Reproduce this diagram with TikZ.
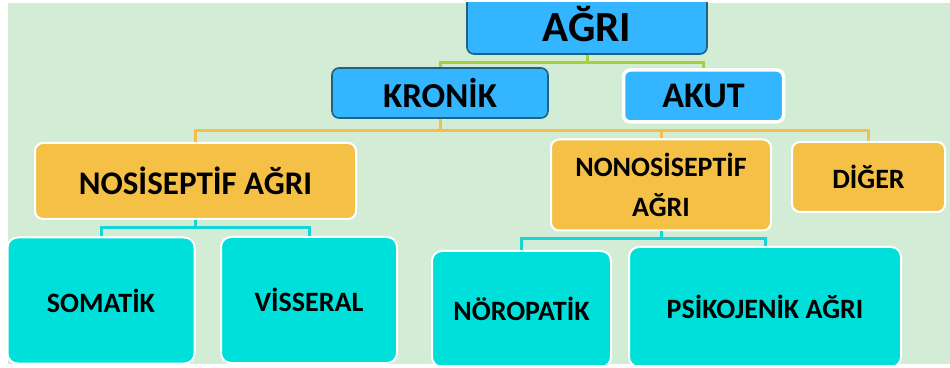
\documentclass[tikz,border=0pt]{standalone}
\usepackage{fontspec}
\setmainfont{Carlito}
\usetikzlibrary{positioning,calc}
\definecolor{bggreen}{RGB}{210,236,214}
\definecolor{skyblue}{RGB}{51,182,255}
\definecolor{deepblue}{RGB}{32,98,128}
\definecolor{paingold}{RGB}{244,192,69}
\definecolor{paincyan}{RGB}{0,224,218}
\definecolor{lineyellowgreen}{RGB}{168,208,60}
\definecolor{linegold}{RGB}{244,190,72}
\definecolor{linecyan}{RGB}{20,214,214}
\tikzset{
    bluebox/.style={
           rectangle,
           rounded corners=7pt,
           draw=deepblue, line width=1.6pt,
           fill=skyblue,
           inner sep=2pt,
           text centered,
           },
    goldbox/.style={
           rectangle,
           rounded corners=8pt,
           draw=white, line width=2pt,
           fill=paingold,
           inner sep=2pt,
           text centered,
           },
    cyanbox/.style={
           rectangle,
           rounded corners=10pt,
           draw=white, line width=2pt,
           fill=paincyan,
           inner sep=2pt,
           text centered,
           },
    bigtext/.style={font=\bfseries\fontsize{#1}{#1}\selectfont},
}

\begin{document}
\begin{tikzpicture}
[
x=1pt,y=1pt
]
 \useasboundingbox (0,0) rectangle (950,367);
 \fill[white] (0,0) rectangle (950,367);

 \begin{scope}
 \clip (8,3) rectangle (950,364);
 \fill[bggreen] (8,3) rectangle (950,364);

 % TOP: AGRI
 \node[bluebox,
 minimum width=240pt,
 minimum height=60pt,
 bigtext=43] (AGRI) at (587,343)
 {AĞRI};

 % second row
 \node[bluebox,
 minimum width=216pt,
 minimum height=50pt,
 bigtext=35] (KRONIK) at (440,274)
 {KRONİK};

 \node[bluebox,
 draw=white, line width=3.5pt,
 minimum width=160pt,
 minimum height=52pt,
 bigtext=36] (AKUT) at (703.5,271)
 {AKUT};

 % third row
 \node[goldbox,
 minimum width=321pt,
 minimum height=76pt,
 bigtext=33] (NOSI) at (195.5,186)
 {NOSİSEPTİF AĞRI};

 \node[goldbox,
 minimum width=220pt,
 minimum height=91pt,
 align=center,
 bigtext=28] (NONOSI) at (661,182)
 {NONOSİSEPTİF\\[12pt]AĞRI};

 \node[goldbox,
 minimum width=153pt,
 minimum height=70pt,
 bigtext=28] (DIGER) at (868.5,190)
 {DİĞER};

 % bottom row
 \node[cyanbox,
 minimum width=187pt,
 minimum height=126pt,
 bigtext=28] (SOMATIK) at (101,66.5)
 {SOMATİK};

 \node[cyanbox,
 minimum width=176pt,
 minimum height=126pt,
 bigtext=28] (VISSERAL) at (309,67)
 {VİSSERAL};

 \node[cyanbox,
 minimum width=179pt,
 minimum height=116pt,
 bigtext=28] (NORO) at (521.5,58)
 {NÖROPATİK};

 \node[cyanbox,
 minimum width=272pt,
 minimum height=120pt,
 bigtext=28] (PSIKO) at (765,60)
 {PSİKOJENİK AĞRI};

 % draw the connectors
 \draw[lineyellowgreen, line width=3pt]
 (AGRI.south) -- ++(0,-8) coordinate (AGRIBUS)
 (AGRIBUS) -| (KRONIK.north)
 (AGRIBUS) -| (AKUT.north);

 \draw[linegold, line width=3pt]
 (KRONIK.south) -- ++(0,-12) coordinate (KRONIKBUS)
 (KRONIKBUS) -| (NOSI.north)
 (KRONIKBUS) -| (NONOSI.north)
 (KRONIKBUS) -| (DIGER.north);

 \draw[linecyan, line width=3pt]
 (NOSI.south) -- ++(0,-8) coordinate (NOSIBUS)
 (NOSIBUS) -| (SOMATIK.north)
 (NOSIBUS) -| (VISSERAL.north);

 \draw[linecyan, line width=3pt]
 (NONOSI.south) -- ++(0,-7) coordinate (NONOSIBUS)
 (NONOSIBUS) -| (NORO.north)
 (NONOSIBUS) -| (PSIKO.north);
 \end{scope}

\end{tikzpicture}
\end{document}
